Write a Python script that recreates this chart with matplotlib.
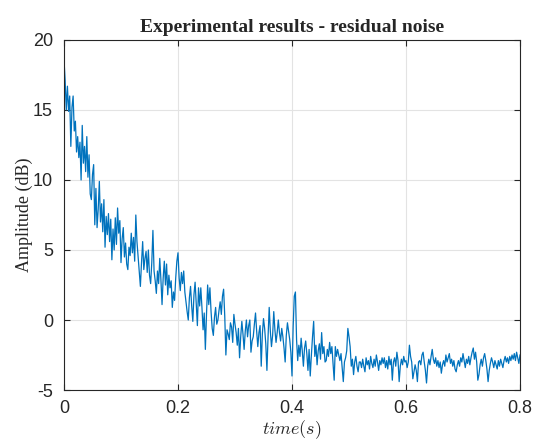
import matplotlib
matplotlib.use('Agg')
from matplotlib import pyplot as plt
import numpy as np

# amplitude (dB), one sample every 2 ms from 0 to 0.8 s
amp = [
    18.6, 17.1, 15.0, 16.7, 14.9, 16.0, 12.4, 15.2, 16.0, 13.5, 14.2, 12.0, 13.1, 11.6, 12.7, 10.0, 13.9, 11.2, 12.4, 10.6,
    13.1, 10.2, 11.8, 9.0, 8.6, 10.4, 11.1, 6.8, 9.4, 6.6, 7.9, 9.9, 7.0, 8.3, 6.3, 8.6, 5.2, 7.4, 6.1, 7.6,
    5.6, 7.2, 4.3, 6.5, 5.0, 7.3, 5.4, 8.0, 6.2, 7.1, 4.1, 5.8, 6.6, 4.5, 5.5, 4.0, 3.6, 5.2, 4.6, 6.2,
    4.8, 5.9, 4.2, 7.5, 5.6, 4.5, 3.3, 2.4, 4.1, 5.6, 3.6, 4.4, 4.9, 3.4, 5.0, 3.2, 2.6, 4.1, 6.4, 3.5,
    2.8, 1.9, 3.5, 2.6, 4.4, 2.9, 1.1, 3.0, 4.2, 2.5, 4.0, 1.8, 3.2, 2.3, 2.8, 0.9, 2.0, 1.4, 3.0, 4.2,
    4.8, 3.0, 2.1, 3.4, 2.6, 3.5, 2.0, 1.3, 0.6, 0.0, 1.6, 2.4, 1.0, -0.1, 1.8, 2.7, 1.2, -0.4, 2.3, 1.0,
    2.3, 0.9, -0.7, 0.5, -2.1, 0.4, 2.5, 1.1, 2.3, 0.6, -0.6, -1.1, 0.2, 0.9, -0.3, 0.0, 0.7, 1.3, 0.4, 1.7,
    2.2, 0.3, -2.5, -0.7, -1.0, -1.4, -0.2, -0.5, -1.6, 0.4, -0.3, -0.9, -1.8, -0.6, -2.7, -1.2, -0.1, -1.0, -2.1, -0.8,
    0.0, -1.2, -0.4, 0.0, -2.3, -1.5, -1.2, -0.3, 0.5, -0.8, -1.9, -0.9, -0.4, -3.3, -1.0, 0.1, -0.6, -1.7, -3.6, -1.2,
    0.9, -0.8, -1.9, -1.1, 0.6, -0.7, -1.6, -0.9, 0.0, -0.9, -1.5, -0.6, -1.2, -2.0, -3.0, -1.1, -0.2, -0.8, -1.4, -2.3,
    -4.0, -0.5, 1.7, 2.0, -1.4, -2.9, -1.8, -2.6, -1.3, -2.2, -3.3, -2.0, -1.5, -2.4, -3.6, -2.1, -4.0, -2.5, -1.2, -0.1,
    -2.6, -1.8, -3.2, -2.2, -1.7, -2.8, -0.9, -2.4, -1.9, -3.0, -2.9, -2.1, -2.6, -1.6, -2.4, -1.9, -3.1, -4.3, -1.9, -2.6,
    -2.1, -2.5, -2.9, -2.4, -3.4, -4.4, -3.0, -2.7, -2.2, -0.6, -1.2, -1.9, -3.3, -2.8, -3.9, -3.0, -2.6, -3.3, -3.7, -3.0,
    -3.0, -3.4, -2.8, -3.3, -3.7, -2.7, -3.2, -2.9, -3.5, -2.6, -3.1, -3.4, -2.8, -3.3, -2.5, -3.0, -3.6, -2.9, -3.2, -2.7,
    -3.1, -2.7, -3.4, -2.9, -3.5, -2.6, -3.2, -2.8, -4.3, -3.0, -2.7, -3.3, -2.3, -2.9, -4.4, -3.3, -2.8, -3.2, -2.6, -3.0,
    -2.9, -3.4, -3.0, -1.8, -2.6, -3.0, -4.2, -3.7, -3.2, -3.6, -4.4, -3.0, -2.9, -3.2, -2.5, -2.3, -3.0, -3.6, -4.5, -3.3,
    -2.8, -3.2, -2.6, -2.1, -2.8, -3.1, -2.7, -3.3, -2.9, -3.4, -3.0, -3.8, -3.2, -2.9, -3.3, -2.5, -3.0, -2.7, -2.4, -3.1,
    -2.8, -3.3, -2.9, -3.5, -3.7, -3.2, -2.9, -3.3, -2.7, -3.0, -2.4, -2.9, -3.4, -2.8, -3.1, -2.6, -3.2, -2.7, -2.3, -2.0,
    -2.8, -2.3, -3.0, -4.3, -3.9, -3.2, -2.8, -3.3, -2.7, -2.4, -2.9, -3.5, -4.4, -3.6, -3.1, -2.7, -3.0, -3.4, -2.9, -3.2,
    -3.5, -2.9, -3.3, -2.8, -3.1, -3.4, -2.9, -2.6, -3.0, -2.7, -3.1, -2.6, -2.9, -2.5, -2.8, -2.4, -2.9, -2.3, -2.7, -3.1,
    -2.5,
]
t = np.linspace(0, 0.8, len(amp))

xticks = [0, 0.2, 0.4, 0.6, 0.8]
xticklabels = ['0', '0.2', '0.4', '0.6', '0.8']
yticks = [-5, 0, 5, 10, 15, 20]
yticklabels = ['-5', '0', '5', '10', '15', '20']

plt.rcParams['mathtext.fontset'] = 'cm'
axcol = '#262626'

fig = plt.figure(figsize=(5.34, 4.44), dpi=100)
ax = fig.add_axes([64 / 534, 1 - 390 / 444, 456 / 534, 350 / 444])
ax.plot(t, amp, color='#0072BD', linewidth=0.9)

ax.set_xlim(0, 0.8)
ax.set_ylim(-5, 20)
ax.set_xticks(xticks)
ax.set_xticklabels(xticklabels)
ax.set_yticks(yticks)
ax.set_yticklabels(yticklabels)
ax.grid(True, color='#e3e3e3', linewidth=0.8)
ax.set_axisbelow(True)
ax.tick_params(direction='in', length=4, width=0.8, colors=axcol, labelsize=13,
               top=True, right=True)
ax.tick_params(axis='x', pad=7)
ax.tick_params(axis='y', pad=8)
for lab in ax.get_xticklabels() + ax.get_yticklabels():
    lab.set_family('Liberation Sans')
for s in ax.spines.values():
    s.set_color(axcol)
    s.set_linewidth(0.8)

ax.set_title('Experimental results - residual noise', family='Liberation Serif',
             fontweight='bold', fontsize=14, color=axcol, pad=6)
ax.set_ylabel('Amplitude (dB)', family='Liberation Serif', fontsize=13, color=axcol, labelpad=0)
ax.set_xlabel('$time(s)$', fontsize=13, color=axcol, labelpad=1)

fig.savefig('out.png', dpi=100)
